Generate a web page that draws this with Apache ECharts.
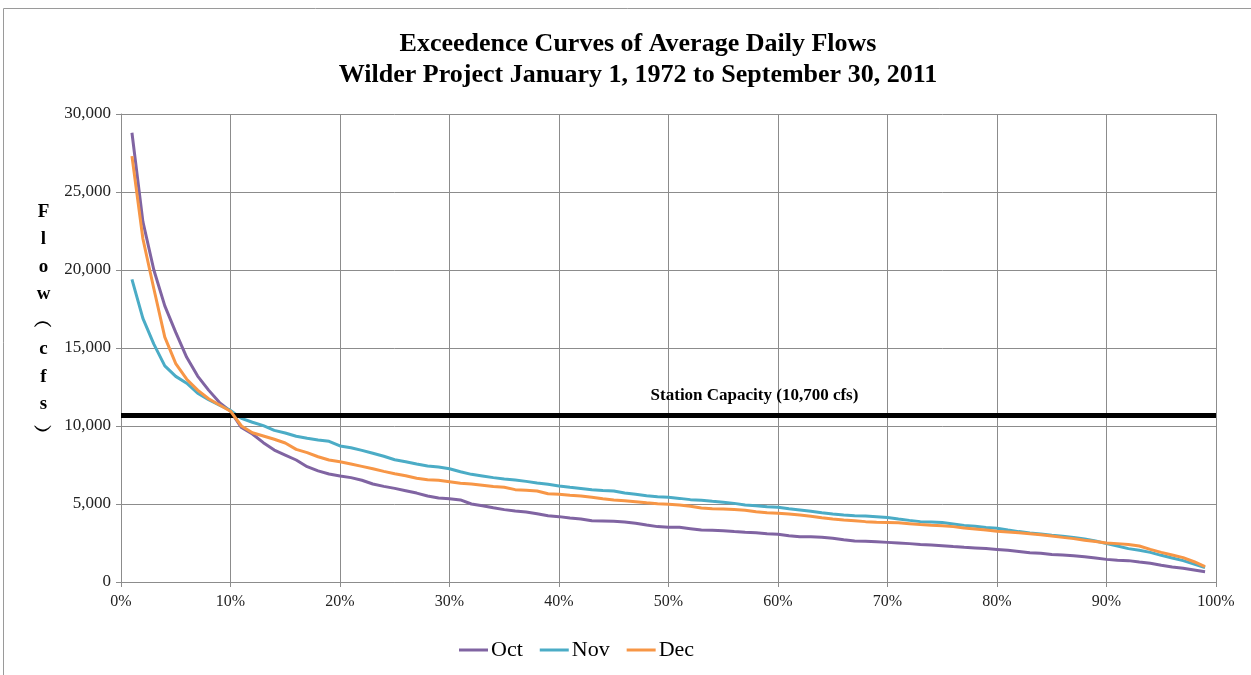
<!DOCTYPE html>
<html>
<head>
<meta charset="utf-8">
<script src="https://cdn.jsdelivr.net/npm/echarts@6/dist/echarts.min.js"></script>
<style>
html,body{margin:0;padding:0;background:#fff;}
#chart{width:1251px;height:675px;}
</style>
</head>
<body>
<div id="chart"></div>
<script>
// Exceedance percentages (x positions)
var exceedPct = [1,2,3,4,5,6,7,8,9,10,11,12,13,14,15,16,17,18,19,20,21,22,23,24,25,26,27,28,29,30,31,32,33,34,35,36,37,38,39,40,41,42,43,44,45,46,47,48,49,50,51,52,53,54,55,56,57,58,59,60,61,62,63,64,65,66,67,68,69,70,71,72,73,74,75,76,77,78,79,80,81,82,83,84,85,86,87,88,89,90,91,92,93,94,95,96,97,98,99];

var octFlow = [28800,23100,20000,17700,16000,14400,13200,12300,11500,10950,9900,9490,8930,8460,8140,7820,7390,7120,6920,6800,6690,6520,6280,6130,6000,5850,5700,5510,5380,5340,5260,5000,4890,4760,4640,4550,4490,4380,4250,4190,4100,4040,3930,3910,3890,3850,3760,3650,3550,3510,3510,3420,3330,3310,3290,3230,3190,3160,3100,3060,2970,2900,2900,2870,2800,2710,2630,2610,2580,2540,2500,2460,2410,2370,2330,2270,2220,2180,2140,2090,2030,1960,1880,1840,1770,1730,1690,1620,1540,1450,1390,1370,1280,1200,1070,960,880,770,660];

var novFlow = [19400,16900,15250,13850,13180,12740,12100,11690,11330,11000,10490,10240,10020,9720,9550,9340,9210,9100,9020,8720,8610,8440,8250,8060,7840,7710,7560,7440,7370,7260,7070,6900,6800,6690,6600,6540,6450,6350,6260,6150,6070,6000,5920,5870,5830,5700,5620,5530,5470,5430,5360,5280,5240,5170,5110,5040,4940,4890,4830,4790,4700,4620,4530,4440,4360,4290,4250,4230,4190,4140,4040,3950,3870,3840,3810,3720,3630,3570,3500,3440,3330,3230,3140,3080,2990,2930,2860,2760,2630,2460,2310,2140,2030,1900,1710,1540,1370,1150,920];

var decFlow = [27300,22000,18800,15700,14000,13000,12300,11750,11350,10950,10000,9570,9360,9150,8910,8500,8290,8030,7820,7710,7560,7410,7260,7090,6940,6810,6650,6560,6520,6430,6330,6280,6200,6120,6070,5920,5880,5830,5660,5620,5560,5510,5430,5340,5260,5210,5150,5080,5020,4980,4940,4850,4740,4700,4680,4640,4600,4510,4440,4400,4360,4290,4210,4120,4040,3970,3930,3870,3830,3820,3800,3740,3680,3640,3610,3550,3460,3400,3330,3250,3210,3160,3100,3030,2950,2860,2780,2670,2590,2500,2460,2410,2310,2090,1900,1730,1560,1300,980];

var seriesNames = ['Oct','Nov','Dec'];
var seriesColors = ['#8064A2','#4BACC6','#F79646'];
var stationCapacity = 10700;
var capacityLabel = 'Station Capacity (10,700 cfs)';
var titleLines = ['Exceedence Curves of Average Daily Flows','Wilder Project January 1, 1972 to September 30, 2011'];
var yAxisTitleChars = ['F','l','o','w','︵','c','f','s','︶'];

var SERIF = '"Liberation Serif","Times New Roman",serif';

function pairs(vals){ return exceedPct.map(function(p,i){ return [p, vals[i]]; }); }

var chart = echarts.init(document.getElementById('chart'), null, {renderer:'canvas'});
var allVals = [octFlow, novFlow, decFlow];
var series = seriesNames.map(function(n, i){
  return {
    name: n, type: 'line', data: pairs(allVals[i]),
    showSymbol: false, symbol: 'none', smooth: false,
    lineStyle: {color: seriesColors[i], width: 3},
    itemStyle: {color: seriesColors[i]},
    emphasis: {disabled: true},
    z: 3 + i
  };
});
series[0].markLine = {
  silent: true, symbol: ['none','none'], animation: false,
  lineStyle: {color: '#000', width: 5, type: 'solid'},
  label: {
    show: true, position: 'insideMiddleTop', formatter: capacityLabel,
    fontFamily: SERIF, fontWeight: 'bold', fontSize: 17, color: '#000',
    offset: [86, -6]
  },
  emphasis: {disabled: true},
  data: [{yAxis: stationCapacity}]
};

chart.setOption({
  backgroundColor: '#fff',
  animation: false,
  title: {
    text: titleLines.join('\n'),
    left: 633, top: 24, textAlign: 'center',
    textStyle: {fontFamily: SERIF, fontWeight: 'bold', fontSize: 26, color: '#000', lineHeight: 31}
  },
  legend: {
    data: seriesNames, left: 454, top: 634,
    icon: 'rect', itemWidth: 29, itemHeight: 3, itemGap: 17,
    textStyle: {fontFamily: SERIF, fontSize: 22, color: '#000', padding: [0,0,0,-2]}
  },
  grid: {left: 121, right: 35, top: 114, bottom: 93, containLabel: false},
  xAxis: {
    type: 'value', min: 0, max: 100, interval: 10,
    axisLine: {show: true, lineStyle: {color: '#8c8c8c', width: 1}},
    axisTick: {show: true, length: 5, lineStyle: {color: '#8c8c8c'}},
    axisLabel: {formatter: '{value}%', fontFamily: SERIF, fontSize: 16, color: '#222', margin: 12},
    splitLine: {show: true, lineStyle: {color: '#8c8c8c', width: 1}}
  },
  yAxis: {
    type: 'value', min: 0, max: 30000, interval: 5000,
    axisLine: {show: true, lineStyle: {color: '#8c8c8c', width: 1}},
    axisTick: {show: true, length: 5, lineStyle: {color: '#8c8c8c'}},
    axisLabel: {
      formatter: function(v){ return v.toLocaleString('en-US'); },
      fontFamily: SERIF, fontSize: 17, color: '#222', margin: 10
    },
    splitLine: {show: true, lineStyle: {color: '#8c8c8c', width: 1}}
  },
  graphic: [
    {
      type: 'polyline', silent: true,
      shape: {points: [[3.5, 700],[3.5, 8.5],[1251, 8.5]]},
      style: {stroke: '#9a9a9a', lineWidth: 1, fill: null}
    },
    {
      type: 'text', left: 34, top: 198, silent: true,
      style: {
        text: yAxisTitleChars.join('\n'),
        fontFamily: SERIF, fontWeight: 'bold', fontSize: 19, lineHeight: 27.5,
        fill: '#000', textAlign: 'center', align: 'center'
      }
    }
  ],
  series: series
});
</script>
</body>
</html>
